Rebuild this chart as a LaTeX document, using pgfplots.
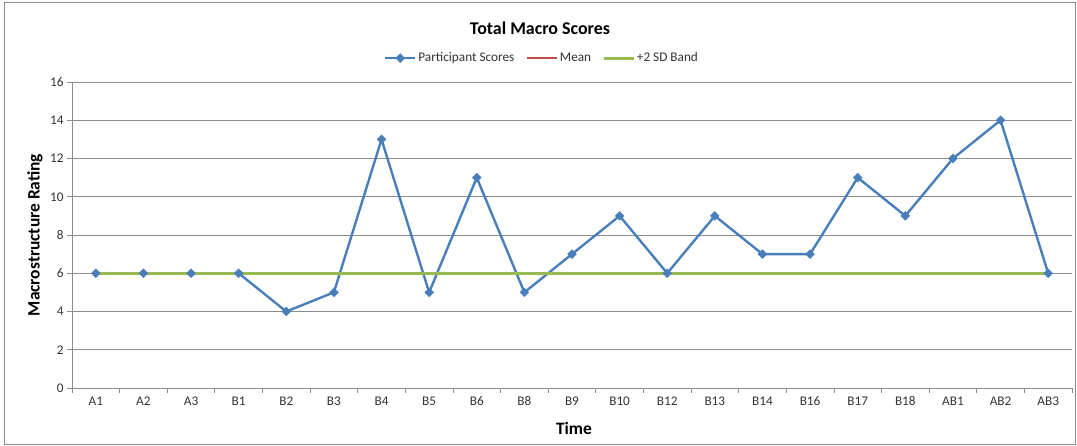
\documentclass[border=0pt]{standalone}
\usepackage{pgfplots}
\pgfplotsset{compat=1.18}
\usepackage{fontspec}
\setmainfont{Carlito}
\definecolor{exblue}{HTML}{4A7EBB}
\definecolor{exred}{HTML}{BE4B48}
\definecolor{exgreen}{HTML}{98B954}
\definecolor{gridgray}{HTML}{8C8C8C}
\definecolor{labgray}{HTML}{333333}
\begin{document}
\begin{tikzpicture}
\useasboundingbox (0,0) rectangle (1077bp,446bp);
\begin{axis}[
  at={(72bp,58bp)}, anchor=south west,
  scale only axis, width=1000bp, height=306bp,
  xmin=-0.5, xmax=20.5, ymin=0, ymax=16,
  axis x line*=bottom, axis y line*=left,
  axis line style={gridgray, line width=0.8pt},
  xtick={-0.5,0.5,...,20.5}, xticklabel=\empty,
  extra x ticks={0,1,...,20},
  extra x tick labels={A1,A2,A3,B1,B2,B3,B4,B5,B6,B8,B9,B10,B12,B13,B14,B16,B17,B18,AB1,AB2,AB3},
  extra x tick style={major tick length=0pt, xticklabel style={yshift=-5bp}},
  ytick={0,2,...,16},
  ymajorgrids, grid style={gridgray, line width=0.8pt},
  tick align=outside, major tick length=5bp,
  tick style={gridgray, line width=0.8pt},
  /pgf/number format/assume math mode=true,
  tick label style={font=\fontsize{13.3}{15}\selectfont, text=labgray},
  xlabel={\textbf{Time}}, ylabel={\textbf{Macrostructure Rating}},
  xlabel style={at={(axis description cs:0.502,-0.131)}, anchor=center, font=\fontsize{17.5}{20}\selectfont},
  ylabel style={at={(axis description cs:-0.037,0.5)}, anchor=center, font=\fontsize{17.5}{20}\selectfont},
  legend columns=3,
  legend style={at={(axis description cs:0.47,1.078)}, anchor=center, draw=none,
    font=\fontsize{13.3}{15}\selectfont, text=labgray,
    /tikz/every even column/.append style={column sep=9bp},
    inner sep=0pt},
  legend image code/.code={\draw[mark repeat=2,mark phase=2,#1] plot coordinates {(0bp,0bp) (15bp,0bp) (30bp,0bp)};},
]
\addplot[exblue, line width=2.4pt, mark=square*, mark size=3.1bp, mark options={solid, rotate=45, line width=0.5pt}] coordinates {
(0,6) (1,6) (2,6) (3,6) (4,4) (5,5) (6,13) (7,5) (8,11) (9,5) (10,7) (11,9) (12,6) (13,9) (14,7) (15,7) (16,11) (17,9) (18,12) (19,14) (20,6)};
\addlegendentry{Participant Scores}
\addplot[exred, line width=2.6pt] coordinates {(0,6) (20,6)};
\addlegendentry{Mean}
\addplot[exgreen, line width=2.8pt] coordinates {(0,6) (20,6)};
\addlegendentry{+2 SD Band}
\end{axis}
\node[font=\fontsize{18}{21}\selectfont\bfseries] at (540bp,418bp) {Total Macro Scores};
\draw[gridgray, line width=0.8pt] (4bp,2bp) rectangle (1075bp,444bp);
\end{tikzpicture}
\end{document}
